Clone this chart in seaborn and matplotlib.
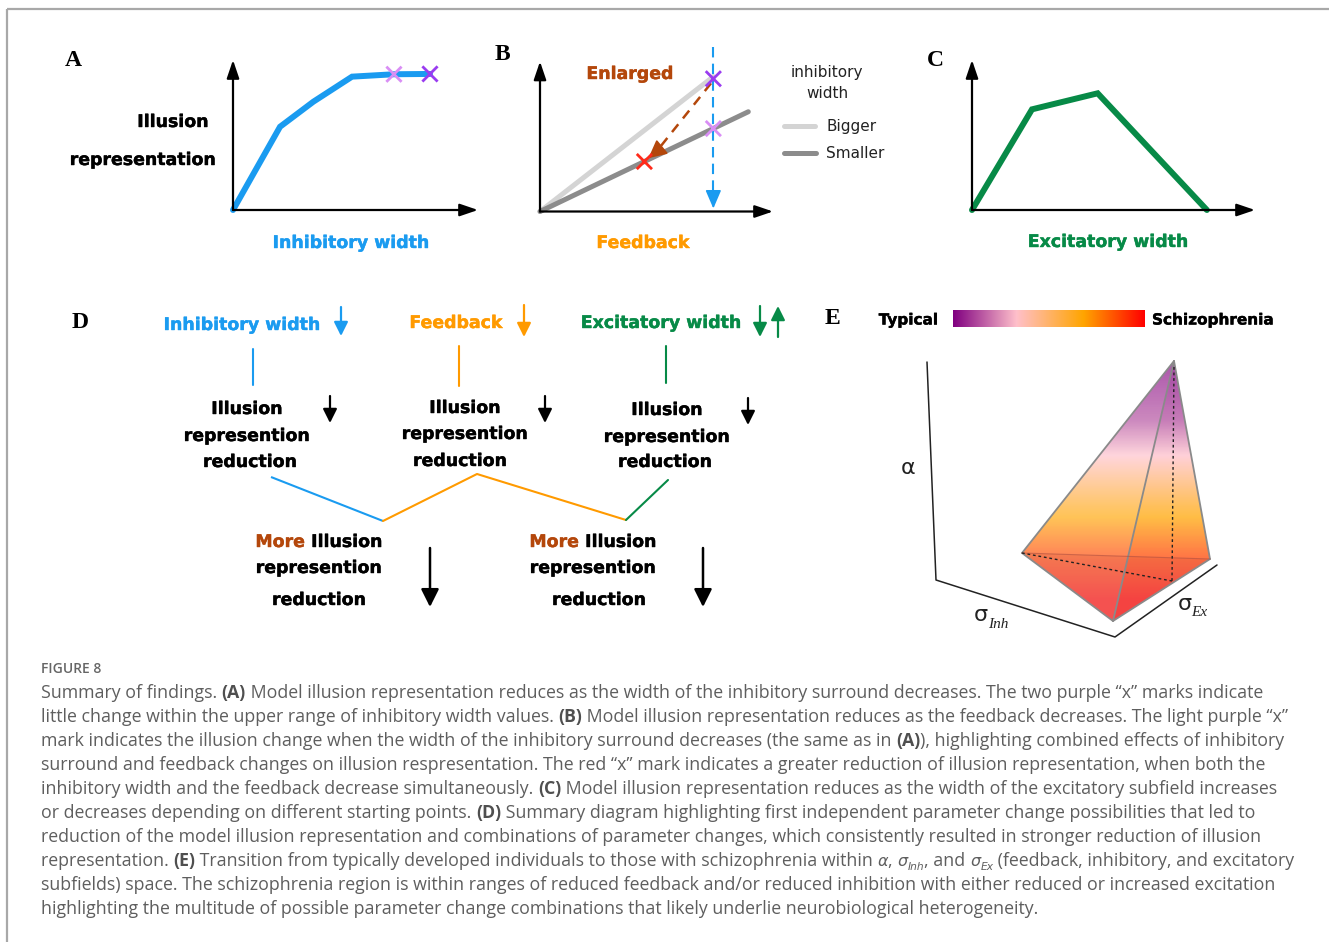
import re
import numpy as np
import pandas as pd
import matplotlib
matplotlib.use("Agg")
import matplotlib.pyplot as plt
import matplotlib.patheffects as pe
from matplotlib.colors import LinearSegmentedColormap
from matplotlib.patches import Polygon
import seaborn as sns

sns.set_theme(style="white")
plt.rcParams["font.family"] = ["DejaVu Sans"]
plt.rcParams["text.color"] = "black"

W, H = 1329, 942

BLUE = "#1a9bf0"
ORANGE = "#ff9a00"
GREEN = "#078a47"
BROWN = "#b4470b"
LIGHT_GREY = "#d4d4d4"
DARK_GREY = "#8c8c8c"

# ---- Panel A: illusion representation against inhibitory width ----
inhib_width = [0.0, 0.192, 0.328, 0.486, 0.657, 0.804]
illusion_vs_inhib = [0.0, 0.555, 0.722, 0.889, 0.905, 0.907]
inhib_mark_x = [0.657, 0.804]
inhib_mark_y = [0.905, 0.907]
inhib_mark_colors = ["#d98ef5", "#9a3cf0"]

# ---- Panel B: illusion representation against feedback ----
feedback_levels = [0.0, 0.744, 0.0, 0.894]
illusion_vs_feedback = [0.0, 0.899, 0.0, 0.665]
inhib_group = ["Bigger", "Bigger", "Smaller", "Smaller"]
feedback_mark_x = [0.744, 0.744, 0.448]
feedback_mark_y = [0.885, 0.553, 0.333]
feedback_mark_colors = ["#9a3cf0", "#d98ef5", "#ff2a1a"]

# ---- Panel C: illusion representation against excitatory width ----
excit_width = [0.0, 0.212, 0.444, 0.830]
illusion_vs_excit = [0.0, 0.671, 0.778, 0.0]

# ---- Panel E: colour scale and schematic region ----
scale_colors = ["#800080", "#ffc0cb", "#ffa500", "#ff0000"]
scale_stops = [0.0, 0.33, 0.68, 1.0]
region_apex = (1174, 361)
region_left = (1022, 553)
region_front = (1113, 621)
region_right = (1210, 559)
region_foot = (1172, 581)
space_axes = [(927, 362), (936, 580), (1115, 637), (1217, 565)]
# height in the drawing -> position on the Typical/Schizophrenia scale
ramp_rows = [361, 420, 455, 505, 560, 600]
ramp_values = [0.0, 0.13, 0.33, 0.62, 0.88, 1.0]

caption_lines = [
    "Summary of findings. **(A)** Model illusion representation reduces as the width of the inhibitory surround decreases. The two purple \u201cx\u201d marks indicate",
    "little change within the upper range of inhibitory width values. **(B)** Model illusion representation reduces as the feedback decreases. The light purple \u201cx\u201d",
    "mark indicates the illusion change when the width of the inhibitory surround decreases (the same as in **(A)**), highlighting combined effects of inhibitory",
    "surround and feedback changes on illusion respresentation. The red \u201cx\u201d mark indicates a greater reduction of illusion representation, when both the",
    "inhibitory width and the feedback decrease simultaneously. **(C)** Model illusion representation reduces as the width of the excitatory subfield increases",
    "or decreases depending on different starting points. **(D)** Summary diagram highlighting first independent parameter change possibilities that led to",
    "reduction of the model illusion representation and combinations of parameter changes, which consistently resulted in stronger reduction of illusion",
    "representation. **(E)** Transition from typically developed individuals to those with schizophrenia within $\u03b1$, $\u03c3$_{Inh}, and $\u03c3$_{Ex} (feedback, inhibitory, and excitatory",
    "subfields) space. The schizophrenia region is within ranges of reduced feedback and/or reduced inhibition with either reduced or increased excitation",
    "highlighting the multitude of possible parameter change combinations that likely underlie neurobiological heterogeneity.",
]

fig = plt.figure(figsize=(W / 100, H / 100), dpi=100)
fig.patch.set_facecolor("white")
canvas = fig.add_axes([0, 0, 1, 1])
canvas.set_xlim(0, W)
canvas.set_ylim(H, 0)
canvas.axis("off")
renderer = fig.canvas.get_renderer()

# frame lines along the top and left edges
canvas.plot([7, W], [9, 9], color="#a8a8a8", lw=1.6, solid_capstyle="butt")
canvas.plot([7, 7], [9, H], color="#a8a8a8", lw=1.6, solid_capstyle="butt")


def panel_axes(left, bottom, width, height):
    ax = fig.add_axes([left / W, 1 - bottom / H, width / W, height / H])
    ax.set_xlim(0, 1)
    ax.set_ylim(0, 1)
    ax.axis("off")
    ax.patch.set_alpha(0)
    return ax


def axis_arrows(ax):
    style = "-|>,head_length=0.5,head_width=0.17"
    for tip in [(1.0, 0.0), (0.0, 1.0)]:
        ax.annotate("", xy=tip, xytext=(0, 0), xycoords="axes fraction",
                    textcoords="axes fraction",
                    arrowprops=dict(arrowstyle=style, color="black", lw=1.6,
                                    mutation_scale=22, shrinkA=0, shrinkB=0))


def arrow(x0, y0, x1, y1, color="black", lw=1.5, scale=14, hl=0.6, hw=0.3):
    canvas.annotate("", xy=(x1, y1), xytext=(x0, y0),
                    arrowprops=dict(arrowstyle=f"-|>,head_length={hl},head_width={hw}",
                                    color=color, lw=lw, mutation_scale=scale,
                                    shrinkA=0, shrinkB=0))


def heavy(color):
    return [pe.withStroke(linewidth=0.3, foreground=color)]


def label(x, y, s, size=12.5, color="black", weight="bold", ha="center", **kw):
    if weight == "bold":
        kw.setdefault("path_effects", heavy(color))
    return canvas.text(x, y, s, fontsize=size, color=color, fontweight=weight,
                       ha=ha, va="center", **kw)


def text_width(s, **kw):
    t = canvas.text(0, 0, "|" + s + "|", **kw)
    w1 = t.get_window_extent(renderer).width
    t.remove()
    t = canvas.text(0, 0, "||", **kw)
    w2 = t.get_window_extent(renderer).width
    t.remove()
    return w1 - w2


def panel_letter(x, y, s):
    canvas.text(x, y, s, fontsize=17, fontweight="bold", ha="center", va="center",
                color="black", family=["Liberation Serif", "DejaVu Serif"])


# ---------------- Panel A ----------------
axA = panel_axes(233, 210, 245, 150)
axis_arrows(axA)
sns.lineplot(x=inhib_width, y=illusion_vs_inhib, ax=axA, color=BLUE, lw=4.3,
             sort=False, estimator=None, legend=False)
for line in axA.lines:
    line.set_solid_joinstyle("miter")
    line.set_clip_on(False)
axA.scatter(inhib_mark_x, inhib_mark_y, marker="x", s=120, linewidths=2,
            c=inhib_mark_colors, zorder=5, clip_on=False)
panel_letter(73, 61, "A")
label(173, 122, "Illusion")
label(143, 160, "representation")
label(351, 243, "Inhibitory width", color=BLUE)

# ---------------- Panel B ----------------
axB = panel_axes(540, 211.5, 233, 150)
axis_arrows(axB)
dfB = pd.DataFrame({"feedback": feedback_levels, "illusion": illusion_vs_feedback,
                    "width": inhib_group})
sns.lineplot(data=dfB, x="feedback", y="illusion", hue="width",
             palette={"Bigger": LIGHT_GREY, "Smaller": DARK_GREY}, lw=3.6,
             sort=False, estimator=None, legend=False, ax=axB)
for line in axB.lines:
    line.set_solid_capstyle("round")
    line.set_clip_on(False)
# vertical dashed guide with its arrow head
axB.plot([0.744, 0.744], [1.1, 0.07], color=BLUE, lw=1.5, ls=(0, (5, 3)), clip_on=False)
axB.annotate("", xy=(0.744, 0.02), xytext=(0.744, 0.08),
             arrowprops=dict(arrowstyle="-|>,head_length=0.7,head_width=0.3", color=BLUE,
                             lw=1.2, mutation_scale=16, shrinkA=0, shrinkB=0))
# brown dashed path from the bigger to the smaller line
axB.plot([0.734, 0.50], [0.855, 0.40], color=BROWN, lw=1.8, ls=(0, (4, 3)), clip_on=False)
axB.annotate("", xy=(0.465, 0.355), xytext=(0.50, 0.40),
             arrowprops=dict(arrowstyle="-|>,head_length=0.7,head_width=0.35", color=BROWN,
                             lw=1.2, mutation_scale=16, shrinkA=0, shrinkB=0))
axB.scatter(feedback_mark_x, feedback_mark_y, marker="x", s=120, linewidths=2,
            c=feedback_mark_colors, zorder=5, clip_on=False)
panel_letter(502, 55, "B")
label(630, 74, "Enlarged", color=BROWN)
label(643, 243, "Feedback", color=ORANGE)
label(827, 73, "inhibitory", size=11, weight="normal", color="#222222")
label(827, 93, "width", size=11, weight="normal", color="#222222")
canvas.plot([784, 815], [126, 126], color=LIGHT_GREY, lw=3.6, solid_capstyle="round")
canvas.plot([784, 816], [152.5, 152.5], color=DARK_GREY, lw=3.6, solid_capstyle="round")
label(826, 126, "Bigger", size=11, weight="normal", ha="left", color="#222222")
label(826, 153, "Smaller", size=11, weight="normal", ha="left", color="#222222")

# ---------------- Panel C ----------------
axC = panel_axes(972, 210, 283, 150)
axis_arrows(axC)
sns.lineplot(x=excit_width, y=illusion_vs_excit, ax=axC, color=GREEN, lw=4.3,
             sort=False, estimator=None, legend=False)
for line in axC.lines:
    line.set_solid_joinstyle("miter")
    line.set_clip_on(False)
panel_letter(935, 61, "C")
label(1108, 242, "Excitatory width", color=GREEN)

# ---------------- Panel D ----------------
panel_letter(80, 322, "D")
label(242, 325, "Inhibitory width", color=BLUE)
label(456, 323, "Feedback", color=ORANGE)
label(661, 323, "Excitatory width", color=GREEN)
arrow(341, 307, 341, 336, color=BLUE, lw=1.6)
arrow(524, 305, 524, 337, color=ORANGE, lw=1.6)
arrow(760, 306, 760, 337, color=GREEN, lw=1.6)
arrow(778, 337, 778, 306, color=GREEN, lw=1.6)
canvas.plot([253, 253], [349, 385], color=BLUE, lw=1.5)
canvas.plot([459, 459], [346, 386], color=ORANGE, lw=1.5)
canvas.plot([666, 666], [346, 383], color=GREEN, lw=1.5)

blocks = [(247, 409, 436, 462, 250), (465, 408, 434, 461, 460), (667, 410, 437, 462, 665)]
for cx, y1, y2, y3, cx3 in blocks:
    label(cx, y1, "Illusion")
    label(cx, y2, "represention")
    label(cx3, y3, "reduction")
arrow(330, 396, 330, 423, lw=1.6)
arrow(545, 396, 545, 423, lw=1.6)
arrow(748, 398, 748, 425, lw=1.6)

canvas.plot([271, 383], [477, 521], color=BLUE, lw=1.5, solid_capstyle="butt")
canvas.plot([383, 477, 626], [521, 474, 520], color=ORANGE, lw=1.5)
canvas.plot([626, 668], [520, 480], color=GREEN, lw=1.5)

for cx, cx3 in [(319, 319), (593, 599)]:
    kw = dict(fontsize=12.5, fontweight="bold")
    w_more = text_width("More ", **kw)
    w_ill = text_width("Illusion", **kw)
    x0 = cx - (w_more + w_ill) / 2
    canvas.text(x0, 542, "More ", color=BROWN, ha="left", va="center",
                path_effects=heavy(BROWN), **kw)
    canvas.text(x0 + w_more, 542, "Illusion", color="black", ha="left", va="center",
                path_effects=heavy("black"), **kw)
    label(cx, 568, "represention")
    label(cx3, 600, "reduction")
arrow(430, 548, 430, 607, lw=1.8, scale=18)
arrow(703, 548, 703, 607, lw=1.8, scale=18)

# ---------------- Panel E ----------------
panel_letter(832, 318, "E")
cmap = LinearSegmentedColormap.from_list("typ_schiz", list(zip(scale_stops, scale_colors)))
grad = np.linspace(0, 1, 256)[None, :]
canvas.imshow(grad, cmap=cmap, aspect="auto", extent=(953, 1145, 327, 310),
              interpolation="bilinear", zorder=2)
label(938, 320, "Typical", size=11, ha="right")
label(1152, 320, "Schizophrenia", size=11, ha="left")

xs, ys = zip(*space_axes)
canvas.plot(xs, ys, color="#222222", lw=1.1)
canvas.text(908, 468, "\u03b1", fontsize=16, ha="center", va="center", color="#222222")
canvas.text(981, 615, "\u03c3", fontsize=16, ha="center", va="center", color="#222222")
canvas.text(988, 624, "Inh", fontsize=11, style="italic", ha="left", va="center",
            color="#222222", family=["Liberation Serif", "DejaVu Serif"])
canvas.text(1185, 604, "\u03c3", fontsize=16, ha="center", va="center", color="#222222")
canvas.text(1191, 612, "Ex", fontsize=11, style="italic", ha="left", va="center",
            color="#222222", family=["Liberation Serif", "DejaVu Serif"])

# vertical colour ramp through the region, clipped to its outline
y_top, y_bot = 358, 625
rows = np.linspace(y_top, y_bot, 300)
t = np.interp(rows, ramp_rows, ramp_values)
rgba = cmap(t)[:, None, :]
rgba[..., 3] = 0.66
silhouette = Polygon([region_apex, region_left, region_front, region_right], closed=True,
                     facecolor="none", edgecolor="none")
canvas.add_patch(silhouette)
im = canvas.imshow(rgba, aspect="auto", extent=(1015, 1215, y_bot, y_top),
                   interpolation="bilinear", zorder=3)
im.set_clip_path(silhouette)
# right face a little denser
right_face = Polygon([region_apex, region_front, region_right], closed=True,
                     facecolor="none", edgecolor="none")
canvas.add_patch(right_face)
rgba2 = rgba.copy()
rgba2[..., 3] = 0.2
im2 = canvas.imshow(rgba2, aspect="auto", extent=(1015, 1215, y_bot, y_top),
                    interpolation="bilinear", zorder=3.1)
im2.set_clip_path(right_face)
# base seen through the faces
base = Polygon([region_left, region_front, region_right], closed=True,
               facecolor="#b83a2a", alpha=0.14, edgecolor="none", zorder=3.2)
canvas.add_patch(base)

edge = dict(color="#8a8a8a", lw=1.3, zorder=4, solid_capstyle="round")
for a, b in [(region_apex, region_left), (region_apex, region_front),
             (region_apex, region_right), (region_left, region_front),
             (region_front, region_right)]:
    canvas.plot([a[0], b[0]], [a[1], b[1]], **edge)
canvas.plot([region_left[0], region_right[0]], [region_left[1], region_right[1]],
            color="#b05040", lw=0.8, alpha=0.6, zorder=4)
dots = dict(color="#222222", lw=1.0, ls=(0, (2, 2)), zorder=4)
canvas.plot([region_left[0], region_foot[0]], [region_left[1], region_foot[1]], **dots)
canvas.plot([region_apex[0], region_foot[0]], [region_apex[1] + 6, region_foot[1]], **dots)

# ---------------- Caption ----------------
CAP_COLOR = "#5e5e5e"
CAP_FONT = ["Open Sans", "DejaVu Sans"]
cap_size = 12.8
canvas.text(41, 669, "FIGURE 8", fontsize=10, color="#666666", ha="left", va="center",
            family=CAP_FONT, fontweight="semibold")

token_re = re.compile(r"(\*\*.*?\*\*|\$.*?\$|_\{.*?\})")


def draw_caption_line(x, y, line, size):
    for tok in token_re.split(line):
        if not tok:
            continue
        kw = dict(fontsize=size, family=CAP_FONT, color=CAP_COLOR)
        dy = 0
        s = tok
        if tok.startswith("**"):
            s = tok[2:-2]
            kw.update(fontweight="bold", color="#4f4f4f")
        elif tok.startswith("$"):
            s = tok[1:-1]
            kw.update(style="italic", family=["DejaVu Sans"], fontsize=size * 0.9)
        elif tok.startswith("_{"):
            s = tok[2:-1]
            kw.update(style="italic", family=["DejaVu Sans"], fontsize=size * 0.6)
            dy = 4
        w = text_width(s, **kw)
        canvas.text(x, y + dy, s, ha="left", va="baseline", **kw)
        x += w


for i, line in enumerate(caption_lines):
    draw_caption_line(41, 698 + 24 * i, line, cap_size)

fig.savefig("out.png", dpi=100, facecolor="white")
